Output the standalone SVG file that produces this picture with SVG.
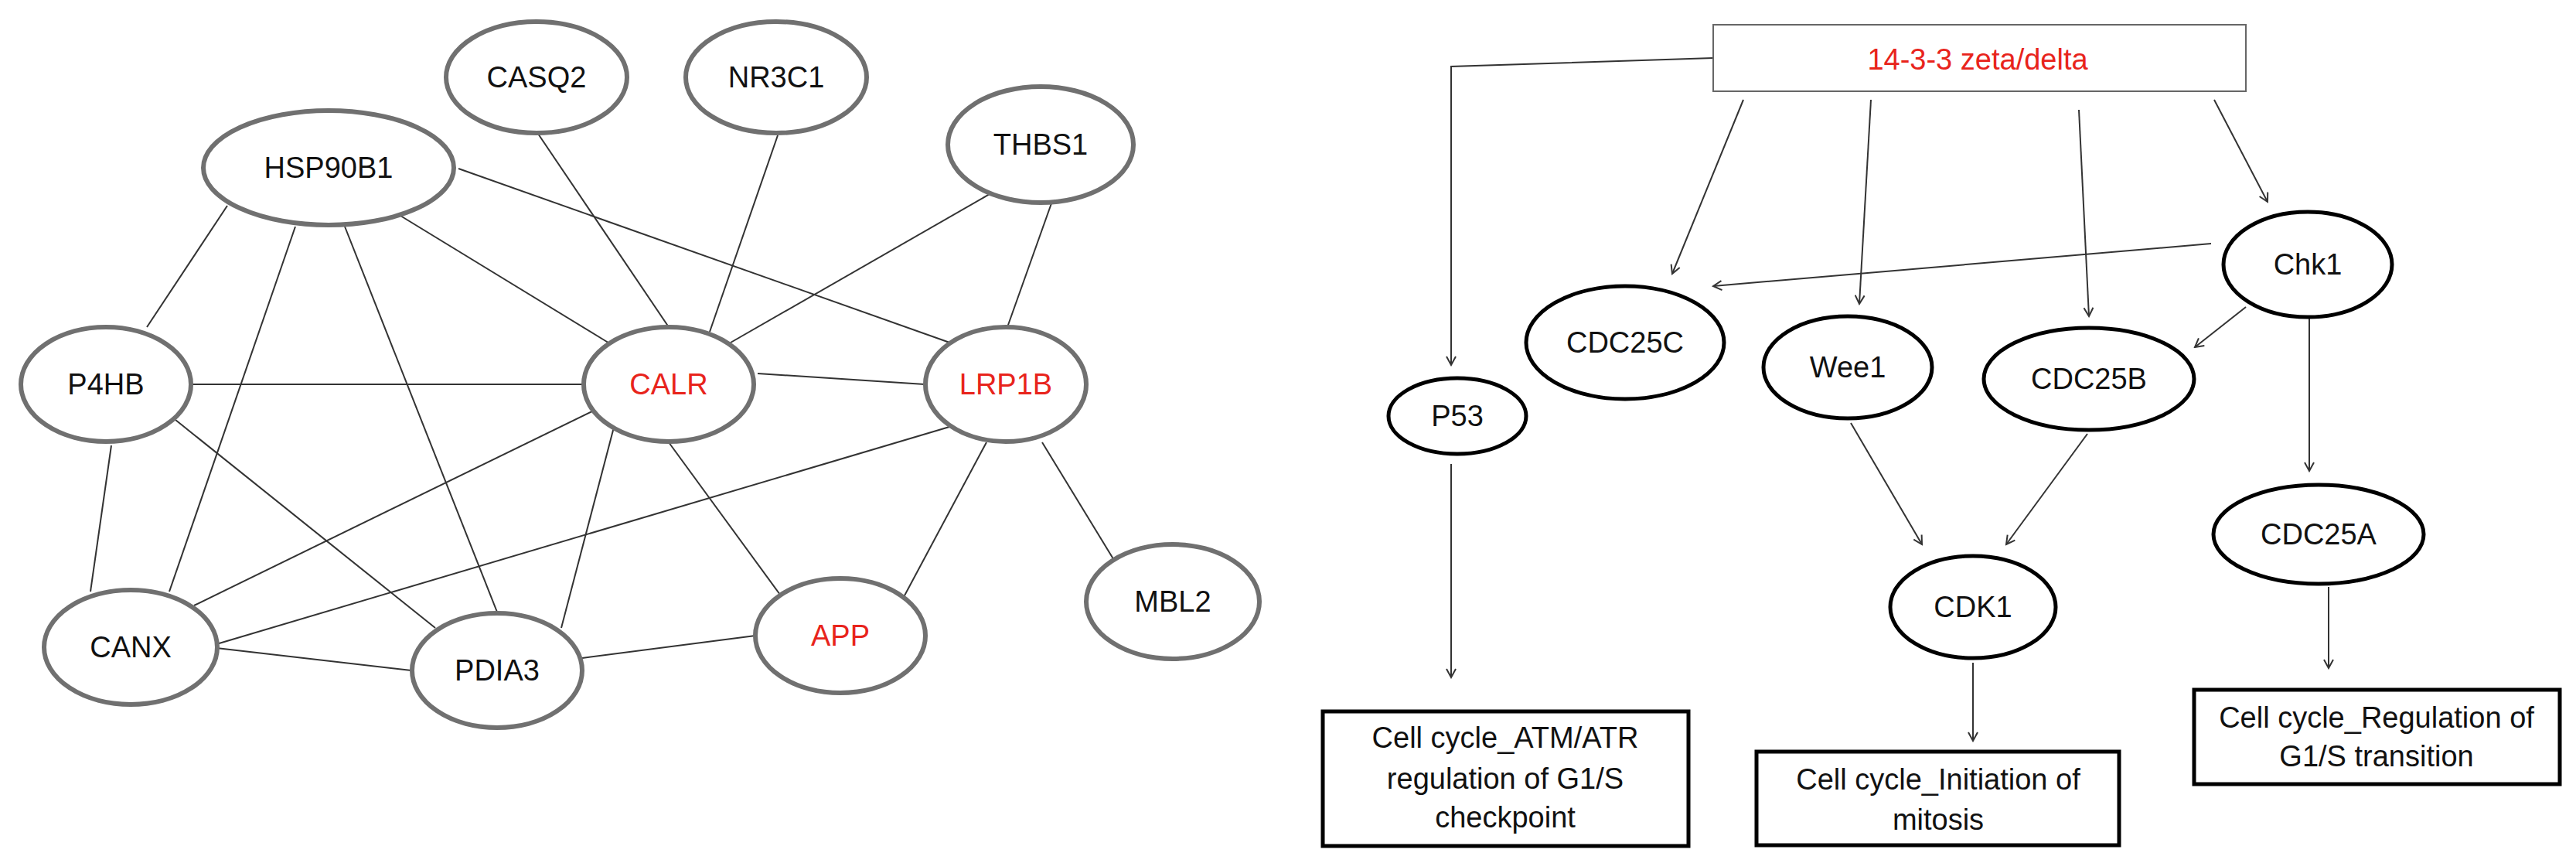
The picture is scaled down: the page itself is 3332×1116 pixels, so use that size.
<svg xmlns="http://www.w3.org/2000/svg" width="3332" height="1116" viewBox="0 0 3332 1116">
<defs>
<marker id="ah" markerWidth="14" markerHeight="14" refX="12" refY="7" orient="auto" markerUnits="userSpaceOnUse"><path d="M1,1 L12,7 L1,13" fill="none" stroke="#333" stroke-width="2"/></marker>
</defs>
<style>
.g ellipse{fill:#fff;stroke:#707070;stroke-width:6}
.b ellipse{fill:#fff;stroke:#000;stroke-width:5}
text{font-family:"Liberation Sans Narrow","Liberation Sans",Arial,sans-serif;font-size:38px;text-anchor:middle;dominant-baseline:central;fill:#111}
.red{fill:#e8241c}
.e line{stroke:#333;stroke-width:2}
.a line,.a polyline{stroke:#333;stroke-width:2;fill:none;marker-end:url(#ah)}
.box{fill:#fff;stroke:#000;stroke-width:5}
</style>
<rect width="3332" height="1116" fill="#fff"/>
<g id="edges" class="e">
<line x1="294" y1="266" x2="190" y2="423"/>
<line x1="382" y1="293" x2="219" y2="765"/>
<line x1="446" y1="293" x2="644" y2="794"/>
<line x1="518" y1="279" x2="790" y2="445"/>
<line x1="593" y1="218" x2="1234" y2="445"/>
<line x1="696" y1="173" x2="865" y2="423"/>
<line x1="1006" y1="175" x2="918" y2="429"/>
<line x1="1287" y1="247" x2="945" y2="443"/>
<line x1="1360" y1="263" x2="1303" y2="423"/>
<line x1="249" y1="497" x2="756" y2="497"/>
<line x1="980" y1="483" x2="1196" y2="497"/>
<line x1="144" y1="576" x2="117" y2="765"/>
<line x1="227" y1="543" x2="563" y2="812"/>
<line x1="772" y1="529" x2="251" y2="783"/>
<line x1="1228" y1="552" x2="280" y2="833"/>
<line x1="796" y1="545" x2="726" y2="812"/>
<line x1="865" y1="572" x2="1009" y2="769"/>
<line x1="1276" y1="572" x2="1169" y2="772"/>
<line x1="1348" y1="572" x2="1442" y2="726"/>
<line x1="280" y1="838" x2="532" y2="867"/>
<line x1="753" y1="851" x2="977" y2="822"/>
</g>
<g class="g">
<g id="CASQ2"><ellipse cx="694" cy="100" rx="117" ry="72"/><text x="694" y="100">CASQ2</text></g>
<g id="NR3C1"><ellipse cx="1004" cy="100" rx="117" ry="72"/><text x="1004" y="100">NR3C1</text></g>
<g id="THBS1"><ellipse cx="1346" cy="187" rx="120" ry="75"/><text x="1346" y="187">THBS1</text></g>
<g id="HSP90B1"><ellipse cx="425" cy="217" rx="162" ry="74"/><text x="425" y="217">HSP90B1</text></g>
<g id="P4HB"><ellipse cx="137" cy="497" rx="110" ry="74"/><text x="137" y="497">P4HB</text></g>
<g id="CALR"><ellipse cx="865" cy="497" rx="110" ry="74"/><text x="865" y="497" class="red">CALR</text></g>
<g id="LRP1B"><ellipse cx="1301" cy="497" rx="104" ry="74"/><text x="1301" y="497" class="red">LRP1B</text></g>
<g id="MBL2"><ellipse cx="1517" cy="778" rx="112" ry="74"/><text x="1517" y="778">MBL2</text></g>
<g id="CANX"><ellipse cx="169" cy="837" rx="112" ry="74"/><text x="169" y="837">CANX</text></g>
<g id="PDIA3"><ellipse cx="643" cy="867" rx="110" ry="74"/><text x="643" y="867">PDIA3</text></g>
<g id="APP"><ellipse cx="1087" cy="822" rx="110" ry="74"/><text x="1087" y="822" class="red">APP</text></g>
</g>
<g id="arrows" class="a">
<polyline points="2216,75 1877,86 1877,472"/>
<line x1="2255" y1="129" x2="2163" y2="354"/>
<line x1="2420" y1="129" x2="2405" y2="393"/>
<line x1="2689" y1="142" x2="2702" y2="409"/>
<line x1="2864" y1="129" x2="2933" y2="261"/>
<line x1="2860" y1="315" x2="2216" y2="370"/>
<line x1="2905" y1="397" x2="2839" y2="449"/>
<line x1="2987" y1="411" x2="2987" y2="609"/>
<line x1="2394" y1="547" x2="2486" y2="704"/>
<line x1="2700" y1="561" x2="2595" y2="704"/>
<line x1="1877" y1="600" x2="1877" y2="876"/>
<line x1="2552" y1="857" x2="2552" y2="958"/>
<line x1="3012" y1="759" x2="3012" y2="864"/>
</g>
<g id="z1433"><rect x="2216" y="32" width="689" height="86" fill="#fff" stroke="#666" stroke-width="2"/><text x="2558" y="77" class="red">14-3-3 zeta/delta</text></g>
<g class="b">
<g id="P53"><ellipse cx="1885" cy="538" rx="89" ry="49"/><text x="1885" y="538">P53</text></g>
<g id="CDC25C"><ellipse cx="2102" cy="443" rx="128" ry="73"/><text x="2102" y="443">CDC25C</text></g>
<g id="Wee1"><ellipse cx="2390" cy="475" rx="109" ry="66"/><text x="2390" y="475">Wee1</text></g>
<g id="CDC25B"><ellipse cx="2702" cy="490" rx="136" ry="66"/><text x="2702" y="490">CDC25B</text></g>
<g id="Chk1"><ellipse cx="2985" cy="342" rx="109" ry="68"/><text x="2985" y="342">Chk1</text></g>
<g id="CDC25A"><ellipse cx="2999" cy="691" rx="136" ry="64"/><text x="2999" y="691">CDC25A</text></g>
<g id="CDK1"><ellipse cx="2552" cy="785" rx="107" ry="66"/><text x="2552" y="785">CDK1</text></g>
</g>
<g id="box1"><rect class="box" x="1711" y="920" width="473" height="174"/><text x="1947" y="954">Cell cycle_ATM/ATR</text><text x="1947" y="1007">regulation of G1/S</text><text x="1947" y="1057">checkpoint</text></g>
<g id="box2"><rect class="box" x="2272" y="972" width="469" height="121"/><text x="2507" y="1008">Cell cycle_Initiation of</text><text x="2507" y="1060">mitosis</text></g>
<g id="box3"><rect class="box" x="2838" y="892" width="473" height="122"/><text x="3074" y="928">Cell cycle_Regulation of</text><text x="3074" y="978">G1/S transition</text></g>
</svg>
